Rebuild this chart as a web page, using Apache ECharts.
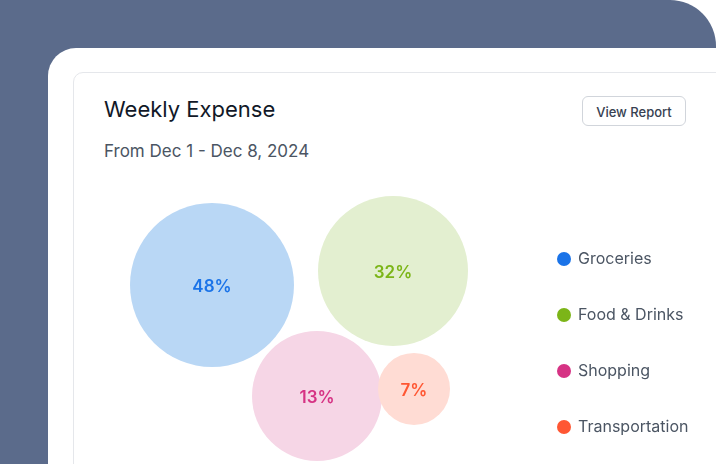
<!DOCTYPE html>
<html>
<head>
<meta charset="utf-8">
<script src="https://cdn.jsdelivr.net/npm/echarts@6/dist/echarts.min.js"></script>
<style>
body{margin:0;width:716px;height:464px;overflow:hidden;background:#fff;font-family:Inter,sans-serif;}
#bg{position:absolute;left:0;top:0;width:716px;height:464px;background:#5b6b8b;border-top-right-radius:46px;}
#panel{position:absolute;left:48px;top:48px;width:700px;height:450px;background:#fff;border-top-left-radius:28px;}
#card{position:absolute;left:73px;top:72px;width:700px;height:450px;background:#fff;border:1px solid #e5e7eb;border-radius:10px;}
#title{position:absolute;left:104px;top:96px;font-size:22px;color:#111827;}
#sub{position:absolute;left:104px;top:141px;font-size:17px;color:#4b5563;}
#btn{position:absolute;left:582px;top:96px;width:104px;height:30px;border:1px solid #d1d5db;border-radius:6px;font-size:13px;font-weight:500;color:#374151;text-align:center;line-height:30px;box-sizing:border-box;}
#chart{position:absolute;left:0;top:0;width:716px;height:464px;}
</style>
</head>
<body>
<div id="bg"></div><div id="panel"></div><div id="card"></div>
<div id="title">Weekly Expense</div>
<div id="sub">From Dec 1 - Dec 8, 2024</div>
<div id="btn">View Report</div>
<div id="chart"></div>
<script>
var categories = ['Groceries', 'Food & Drinks', 'Shopping', 'Transportation'];
var percents = [48, 32, 13, 7];
var bubbleX = [28, 73.25, 54.25, 78.5];
var bubbleY = [62.5, 67.5, 22.9, 25.4];
var bubbleSize = [164, 150, 130, 72];
var fillColors = ['#b9d7f5', '#e3efd0', '#f6d6e6', '#ffdcd4'];
var mainColors = ['#1a73e8', '#7cb518', '#d63384', '#ff5733'];

var myChart = echarts.init(document.getElementById('chart'));
var series = [];
for (var i = 0; i < categories.length; i++) {
	series.push({
		name: categories[i],
		type: 'scatter',
		symbolSize: bubbleSize[i],
		itemStyle: { color: fillColors[i], opacity: 1 },
		label: {
			show: true,
			position: 'inside',
			formatter: '{@[2]}%',
			color: mainColors[i],
			fontSize: 17,
			fontWeight: 600,
			fontFamily: 'Inter',
			offset: [0, 2]
		},
		data: [[bubbleX[i], bubbleY[i], percents[i]]]
	});
}
var legendData = [];
for (var i = 0; i < categories.length; i++) {
	legendData.push({ name: categories[i], itemStyle: { color: mainColors[i] } });
}
myChart.setOption({
	animation: false,
	grid: { left: 100, top: 180, width: 400, height: 280 },
	xAxis: { type: 'value', min: 0, max: 100, show: false },
	yAxis: { type: 'value', min: 0, max: 100, show: false },
	legend: {
		orient: 'vertical',
		left: 552,
		top: 246,
		icon: 'circle',
		itemWidth: 14,
		itemHeight: 14,
		itemGap: 40,
		textStyle: { fontSize: 16, color: '#4b5563', fontFamily: 'Inter', padding: [0, 0, 0, 2] },
		data: legendData
	},
	series: series
});
</script>
</body>
</html>
